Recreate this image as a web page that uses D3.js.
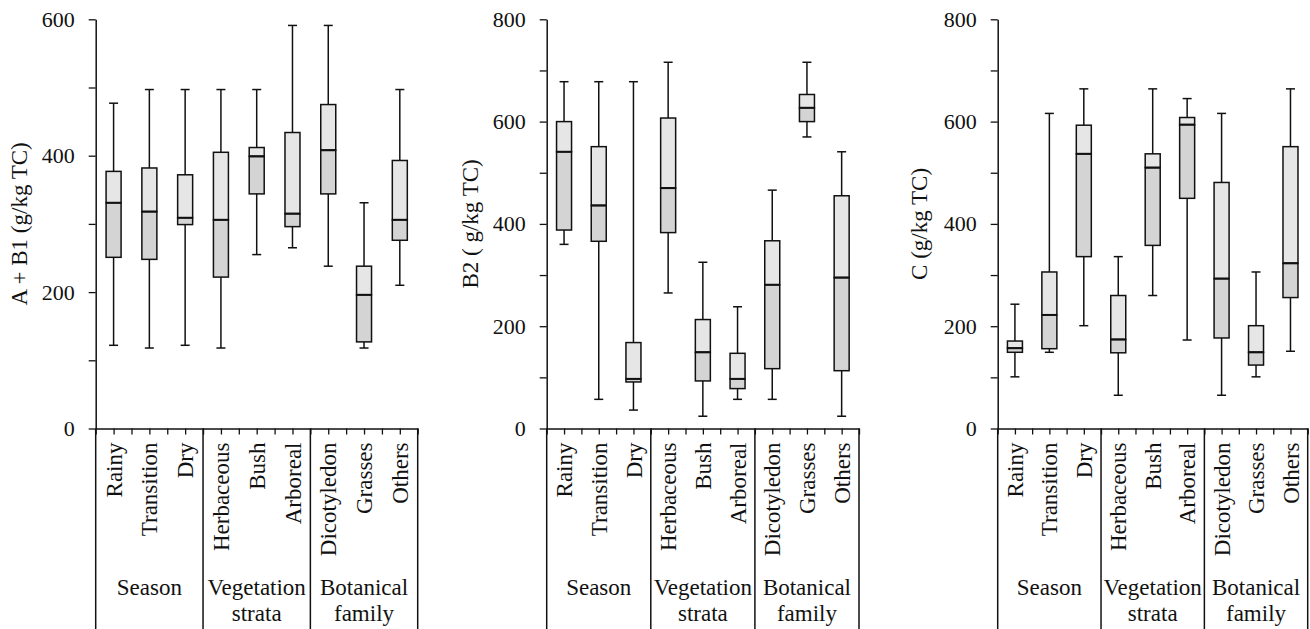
<!DOCTYPE html>
<html>
<head>
<meta charset="utf-8">
<script src="https://cdn.jsdelivr.net/npm/d3@7"></script>
<style>
  body { margin: 0; background: #fff; }
  svg text { font-family: "Liberation Serif", "Times New Roman", serif; fill: #111; }
</style>
</head>
<body>
<div id="chart"></div>
<script>
'use strict';

// categories along x, grouped in three blocks
const categories = ['Rainy', 'Transition', 'Dry', 'Herbaceous', 'Bush', 'Arboreal',
                    'Dicotyledon', 'Grasses', 'Others'];
const groupLabels = [['Season'], ['Vegetation', 'strata'], ['Botanical', 'family']];
const groupStarts = [0, 3, 6];

// five-number summaries [min, q1, median, q3, max] per category (g/kg TC)
const abB1 = [
  [122, 251, 331, 377, 477], [118, 248, 318, 382, 497], [122, 299, 309, 372, 497],
  [118, 222, 306, 405, 497], [255, 344, 399, 412, 497], [265, 296, 315, 434, 591],
  [238, 344, 408, 475, 591], [118, 127, 196, 238, 331], [210, 276, 306, 393, 497]
];
const b2 = [
  [360, 388, 541, 600, 678], [57, 366, 436, 551, 678], [36, 91, 97, 168, 678],
  [265, 383, 470, 607, 716], [24, 93, 149, 213, 325], [57, 78, 97, 147, 238],
  [57, 117, 281, 367, 466], [570, 600, 627, 653, 716], [24, 113, 295, 455, 541]
];
const c = [
  [101, 149, 157, 171, 243], [149, 156, 222, 306, 616], [201, 336, 537, 593, 664],
  [65, 148, 174, 260, 336], [260, 358, 510, 537, 664], [173, 450, 594, 608, 645],
  [65, 177, 293, 481, 616], [101, 124, 149, 201, 306], [151, 256, 323, 551, 664]
];

const yMaxes = [600, 800, 800];
const titles = ['A + B1 (g/kg TC)', 'B2 ( g/kg TC)', 'C (g/kg TC)'];

const width = 1310;
const height = 629;
const plotTop = 19.3;
const plotBottom = 428.5;
const boxW = 15;
const capW = 9;
const fontSize = 23;
const tickFont = 22;

const panels = [
  {data: abB1, x0: 95.7, x1: 417.7, titleX: 27},
  {data: b2, x0: 546.7, x1: 859, titleX: 478},
  {data: c, x0: 997.7, x1: 1307.7, titleX: 927}
];

const svg = d3.select('#chart').append('svg')
  .attr('width', width)
  .attr('height', height);

panels.forEach(function(p, i) {
  const g = svg.append('g');
  const yMax = yMaxes[i];

  const y = d3.scaleLinear().domain([0, yMax]).range([plotBottom, plotTop]);
  const x = d3.scaleBand().domain(categories).range([p.x0, p.x1]);
  const half = d3.scaleLinear().domain([0, categories.length * 2]).range([p.x0, p.x1]);
  const mid = d => x(d) + x.bandwidth() / 2;

  // group dividers running down through the label area
  const divs = groupStarts.map(k => x(categories[k])).concat([p.x1]);
  g.selectAll('line.div').data(divs).enter().append('line')
    .attr('class', 'div')
    .attr('x1', d => d).attr('x2', d => d)
    .attr('y1', plotBottom).attr('y2', height)
    .attr('stroke', '#111').attr('stroke-width', 1.5);

  // x axis with small ticks every half band
  const xAxis = g.append('g')
    .attr('transform', `translate(0,${plotBottom})`)
    .call(d3.axisBottom(half)
      .tickValues(d3.range(0, categories.length * 2 + 1))
      .tickSize(6).tickSizeOuter(0).tickFormat(''));
  xAxis.select('.domain').attr('stroke', '#111').attr('stroke-width', 1.5);
  xAxis.selectAll('.tick line').attr('stroke', '#111').attr('stroke-width', 1.3);

  // y axis
  const yAxis = g.append('g')
    .attr('transform', `translate(${p.x0},0)`)
    .call(d3.axisLeft(y)
      .tickValues(d3.range(0, yMax + 1, 100))
      .tickSize(7).tickSizeOuter(0).tickPadding(14)
      .tickFormat(d => d % 200 === 0 ? d : ''));
  yAxis.select('.domain').attr('stroke', '#111').attr('stroke-width', 1.5);
  yAxis.selectAll('.tick line').attr('stroke', '#111').attr('stroke-width', 1.3);
  yAxis.selectAll('.tick text')
    .style('font-family', '"Liberation Serif", serif')
    .style('font-size', tickFont + 'px')
    .attr('fill', '#111');

  // y title
  g.append('text')
    .attr('transform', `translate(${p.titleX},${(plotTop + plotBottom) / 2}) rotate(-90)`)
    .attr('text-anchor', 'middle')
    .style('font-size', fontSize + 'px')
    .text(titles[i]);

  // category labels, rotated
  g.selectAll('text.cat').data(categories).enter().append('text')
    .attr('class', 'cat')
    .attr('transform', d => `translate(${mid(d)},${plotBottom + 14}) rotate(-90)`)
    .attr('dy', '0.35em')
    .attr('text-anchor', 'end')
    .style('font-size', fontSize + 'px')
    .text(d => d);

  // group labels
  groupLabels.forEach(function(lines, k) {
    const gx0 = divs[k];
    const gx1 = divs[k + 1];
    const t = g.append('text')
      .attr('text-anchor', 'middle')
      .style('font-size', fontSize + 'px');
    lines.forEach(function(line, j) {
      t.append('tspan')
        .attr('x', (gx0 + gx1) / 2)
        .attr('y', 595 + j * 26)
        .text(line);
    });
  });

  // boxes
  const rows = categories.map((cat, k) => ({cat: cat, v: p.data[k]}));
  const box = g.selectAll('g.box').data(rows).enter().append('g')
    .attr('class', 'box');

  box.append('line')
    .attr('x1', d => mid(d.cat)).attr('x2', d => mid(d.cat))
    .attr('y1', d => y(d.v[0])).attr('y2', d => y(d.v[4]))
    .attr('stroke', '#111').attr('stroke-width', 1.5);

  box.selectAll('line.cap').data(d => [d.v[0], d.v[4]].map(v => ({cat: d.cat, v: v})))
    .enter().append('line')
    .attr('class', 'cap')
    .attr('x1', d => mid(d.cat) - capW / 2).attr('x2', d => mid(d.cat) + capW / 2)
    .attr('y1', d => y(d.v)).attr('y2', d => y(d.v))
    .attr('stroke', '#111').attr('stroke-width', 1.5);

  // upper half (median to q3), light
  box.append('rect')
    .attr('x', d => mid(d.cat) - boxW / 2)
    .attr('width', boxW)
    .attr('y', d => y(d.v[3]))
    .attr('height', d => y(d.v[2]) - y(d.v[3]))
    .attr('fill', '#e6e6e6')
    .attr('stroke', '#111').attr('stroke-width', 1.5);

  // lower half (q1 to median), darker
  box.append('rect')
    .attr('x', d => mid(d.cat) - boxW / 2)
    .attr('width', boxW)
    .attr('y', d => y(d.v[2]))
    .attr('height', d => y(d.v[1]) - y(d.v[2]))
    .attr('fill', '#d3d4d3')
    .attr('stroke', '#111').attr('stroke-width', 1.5);

  // median line a touch heavier
  box.append('line')
    .attr('x1', d => mid(d.cat) - boxW / 2).attr('x2', d => mid(d.cat) + boxW / 2)
    .attr('y1', d => y(d.v[2])).attr('y2', d => y(d.v[2]))
    .attr('stroke', '#111').attr('stroke-width', 2);
});
</script>
</body>
</html>
